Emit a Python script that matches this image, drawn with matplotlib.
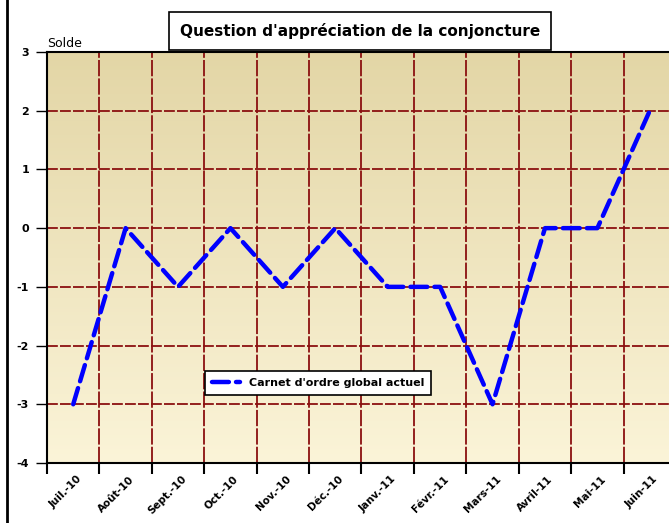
import numpy as np
import matplotlib.pyplot as plt
from matplotlib.lines import Line2D
from matplotlib.colors import LinearSegmentedColormap
import matplotlib.transforms as mtransforms

# Data
months = ['Juil.-10', 'Août-10', 'Sept.-10', 'Oct.-10', 'Nov.-10', 'Déc.-10',
          'Janv.-11', 'Févr.-11', 'Mars-11', 'Avril-11', 'Mai-11', 'Juin-11']
carnet = [-3, 0, -1, 0, -1, 0, -1, -1, -3, 0, 0, 2]
y_ticks = [-4, -3, -2, -1, 0, 1, 2, 3]

fig = plt.figure(figsize=(6.69, 5.23), dpi=100)
W, H = 669, 523
left, right, top, bottom = 47, 676, 52, 463
ax = fig.add_axes([left / W, 1 - bottom / H, (right - left) / W, (bottom - top) / H])

n = len(months)
x = np.arange(n)
ax.set_xlim(-0.5, n - 0.5)
ax.set_ylim(-4, 3)

# gradient background
cmap = LinearSegmentedColormap.from_list('bg', ['#FBF4D8', '#E3D6A6'])
grad = np.linspace(0, 1, 256).reshape(-1, 1)
ax.imshow(grad, aspect='auto', cmap=cmap, origin='lower',
          extent=[-0.5, n - 0.5, -4, 3], zorder=0)

# grid
grid_col = '#8B1010'
for xb in np.arange(0.5, n - 0.5, 1):
    ax.axvline(xb, color=grid_col, lw=1.3, dashes=(9, 1.2), zorder=1)
for yv in y_ticks[1:-1]:
    ax.axhline(yv, color=grid_col, lw=1.3, dashes=(6, 1.2), zorder=1)

ax.plot(x, carnet, color='#0000FF', lw=3.2, dashes=(3.8, 1.6),
        solid_capstyle='round', dash_capstyle='round', zorder=3,
        label="Carnet d'ordre global actuel")

# ticks
ax.set_xticks(np.arange(-0.5, n, 1))
ax.set_xticklabels([])
ax.set_xticks(x, minor=True)
ax.set_xticklabels(months, minor=True, rotation=45, ha='right',
                   fontsize=7.5, fontweight='bold', rotation_mode='anchor')
ax.tick_params(axis='x', which='major', length=8, width=1.5, direction='out')
ax.tick_params(axis='x', which='minor', length=0, pad=8)
offset = mtransforms.ScaledTranslation(3 / 100, 0, fig.dpi_scale_trans)
for lab in ax.get_xticklabels(minor=True):
    lab.set_transform(lab.get_transform() + offset)

ax.set_yticks(y_ticks)
ax.set_yticklabels([str(v) for v in y_ticks], fontsize=8, fontweight='bold')
ax.tick_params(axis='y', length=8, width=1, direction='out', pad=5)

for s in ['left', 'bottom', 'top']:
    ax.spines[s].set_linewidth(1.5)
    ax.spines[s].set_color('black')
ax.spines['right'].set_visible(False)

ax.text(0.0, 1.005, 'Solde', transform=ax.transAxes, fontsize=9,
        ha='left', va='bottom')

fig.text(360 / W, 1 - 31 / H, "Question d'appréciation de la conjoncture",
         ha='center', va='center', fontsize=11, fontweight='bold',
         bbox=dict(boxstyle='square,pad=0.7', fc='white', ec='black', lw=1.2))

leg = ax.legend(loc='center', bbox_to_anchor=(0.431, 0.195), frameon=True,
                fancybox=False, edgecolor='black', framealpha=1,
                prop={'size': 8, 'weight': 'bold'}, handlelength=2.5,
                borderpad=0.6)
leg.get_frame().set_linewidth(1.2)

# left border of the chart frame
fig.add_artist(Line2D([7 / W, 7 / W], [0, 1], color='black', lw=2,
                      transform=fig.transFigure))

fig.savefig('out.png', dpi=100)
